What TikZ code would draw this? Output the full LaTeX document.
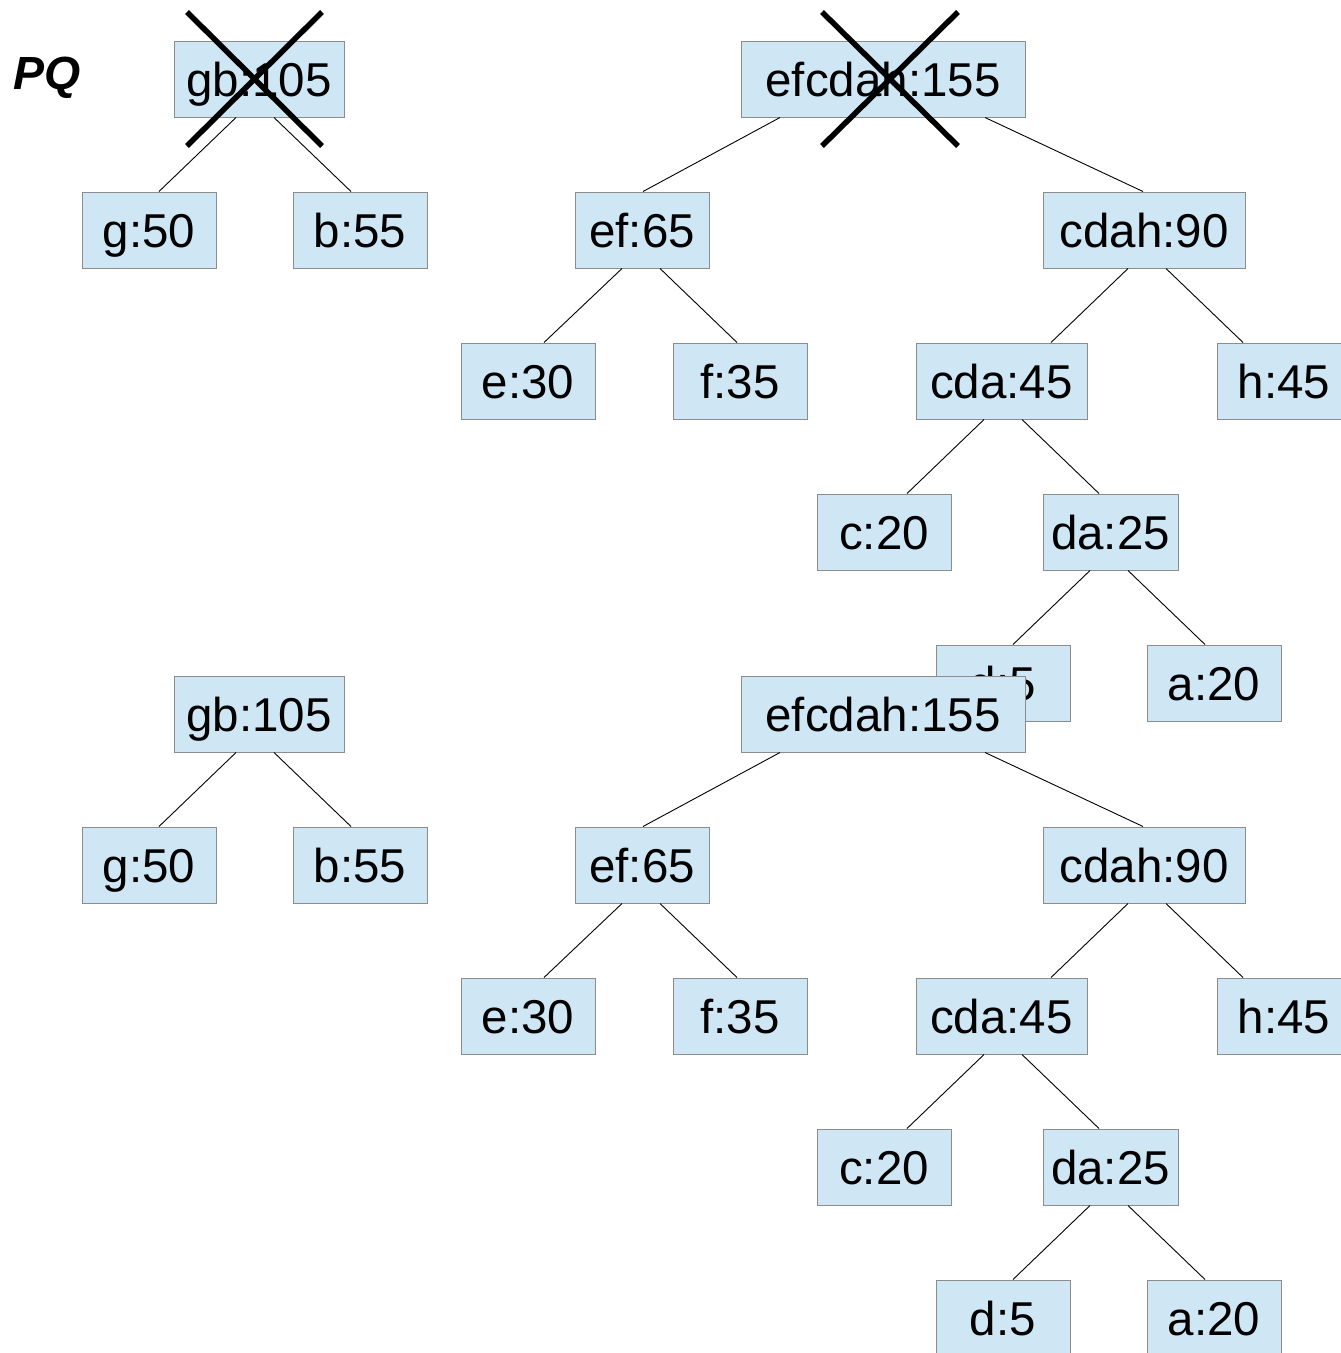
\documentclass[tikz,border=0pt]{standalone}
\usepackage{fontspec}
\setmainfont{Liberation Sans}
\definecolor{boxfill}{HTML}{CFE7F5}
\definecolor{boxline}{HTML}{8C8C8C}
\tikzset{
  tn/.style={draw=boxline, line width=1pt, fill=boxfill, inner sep=0pt,
    minimum height=76pt, text height=34pt, text depth=0pt,
    font=\fontsize{47.5}{57}\selectfont, anchor=center},
  edge/.style={draw=black, line width=0.9pt},
  cross/.style={draw=black, line width=5.5pt},
}
\newcommand\hufftree[2]{%
  \node[tn, minimum width=170pt] (#1gb) at (259,79+#2) {gb:105};
  \node[tn, minimum width=134pt] (#1g) at (149,230+#2) {g:50};
  \node[tn, minimum width=134pt] (#1b) at (360,230+#2) {b:55};
  \node[tn, minimum width=284pt] (#1efcdah) at (883,79+#2) {efcdah:155};
  \node[tn, minimum width=134pt] (#1ef) at (642,230+#2) {ef:65};
  \node[tn, minimum width=202pt] (#1cdah) at (1144,230+#2) {cdah:90};
  \node[tn, minimum width=134pt] (#1e) at (528,381+#2) {e:30};
  \node[tn, minimum width=134pt] (#1f) at (740,381+#2) {f:35};
  \node[tn, minimum width=171pt] (#1cda) at (1001.5,381+#2) {cda:45};
  \node[tn, minimum width=134pt] (#1h) at (1284,381+#2) {h:45};
  \node[tn, minimum width=134pt] (#1c) at (884,532+#2) {c:20};
  \node[tn, minimum width=135pt] (#1da) at (1110.5,532+#2) {da:25};
  \node[tn, minimum width=134pt] (#1d) at (1003,683+#2) {d:5};
  \node[tn, minimum width=134pt] (#1a) at (1214,683+#2) {a:20};
  \draw[edge] ([xshift=-23pt]#1gb.south) -- ([xshift=10pt]#1g.north);
  \draw[edge] ([xshift=15pt]#1gb.south) -- ([xshift=-9pt]#1b.north);
  \draw[edge] ([xshift=-103pt]#1efcdah.south) -- ([xshift=1pt]#1ef.north);
  \draw[edge] ([xshift=102pt]#1efcdah.south) -- ([xshift=-1pt]#1cdah.north);
  \draw[edge] ([xshift=-20pt]#1ef.south) -- ([xshift=16pt]#1e.north);
  \draw[edge] ([xshift=18pt]#1ef.south) -- ([xshift=-3pt]#1f.north);
  \draw[edge] ([xshift=-16pt]#1cdah.south) -- ([xshift=49.5pt]#1cda.north);
  \draw[edge] ([xshift=22pt]#1cdah.south) -- ([xshift=-41pt]#1h.north);
  \draw[edge] ([xshift=-17.5pt]#1cda.south) -- ([xshift=23pt]#1c.north);
  \draw[edge] ([xshift=20.5pt]#1cda.south) -- ([xshift=-11.5pt]#1da.north);
  \draw[edge] ([xshift=-20.5pt]#1da.south) -- ([xshift=10pt]#1d.north);
  \draw[edge] ([xshift=17.5pt]#1da.south) -- ([xshift=-9pt]#1a.north);
}
\begin{document}
\begin{tikzpicture}[x=1pt, y=-1pt]
  \useasboundingbox (0,0) rectangle (1341,1353);
  \node[anchor=base west, inner sep=0pt, font=\fontsize{46.5}{56}\selectfont\bfseries\itshape] (pq) at (13,89) {PQ};
  \hufftree{t}{0}
  \hufftree{u}{635}
  \draw[cross] (187,12) -- (322,146);
  \draw[cross] (322,12) -- (187,146);
  \draw[cross] (822,12) -- (958,146);
  \draw[cross] (958,12) -- (822,146);
\end{tikzpicture}
\end{document}
